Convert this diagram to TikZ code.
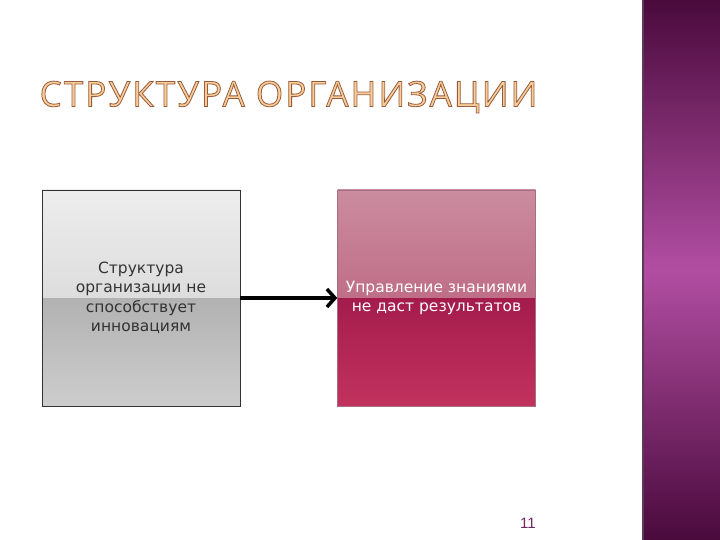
\documentclass[tikz,border=0pt]{standalone}
\usepackage{fontspec}
\setmainfont{DejaVu Sans}
\newfontfamily\titlefont[LetterSpace=6]{Open Sans}
\newfontfamily\numfont{Liberation Sans}
\usetikzlibrary{arrows.meta}

\definecolor{bandDark}{HTML}{4A0A3C}
\definecolor{bandMid}{HTML}{B24EA2}
\definecolor{grayTop}{HTML}{EDEDED}
\definecolor{grayMidA}{HTML}{CDCDCD}
\definecolor{grayMidB}{HTML}{B2B2B2}
\definecolor{grayBot}{HTML}{CDCDCD}
\definecolor{redTop}{HTML}{CB8CA0}
\definecolor{redMidA}{HTML}{B4506F}
\definecolor{redMidB}{HTML}{A41C4C}
\definecolor{redBot}{HTML}{C2325F}
\definecolor{titleFill}{HTML}{F8CD9A}
\definecolor{numColor}{HTML}{6E2A64}

% outline only for the title letters
\newcommand{\outlined}[1]{\special{pdf:literal direct 2 Tr 0.8 w 0.6 0.36 0.23 RG}#1\special{pdf:literal direct 0 Tr}}

\tikzset{
  box/.style={minimum width=198pt, minimum height=216pt, inner sep=0pt,
    align=center, font=\fontsize{15.5}{19.5}\selectfont},
  graybox/.style={box, draw=black!80, line width=0.6pt, text=black!80,
    path picture={
      \shade[top color=grayTop, bottom color=grayMidA]
        (path picture bounding box.north west) rectangle (path picture bounding box.east);
      \shade[top color=grayMidB, bottom color=grayBot]
        (path picture bounding box.west) rectangle (path picture bounding box.south east);
    }},
  redbox/.style={box, draw=redTop!80!black, line width=0.5pt, text=white,
    path picture={
      \shade[top color=redTop, bottom color=redMidA]
        (path picture bounding box.north west) rectangle (path picture bounding box.east);
      \shade[top color=redMidB, bottom color=redBot]
        (path picture bounding box.west) rectangle (path picture bounding box.south east);
    }},
  titletext/.style={font=\titlefont\fontsize{35}{35}\selectfont, inner sep=0pt},
  arr/.style={line width=4.5pt, -{Straight Barb[length=8pt, width=18pt, line width=3.5pt]}},
}

\begin{document}
\begin{tikzpicture}[x=1pt, y=-1pt]
\useasboundingbox (0,0) rectangle (720,540);
\fill[white] (0,0) rectangle (720,540);

% purple band on the right
\shade[top color=bandDark, bottom color=bandDark, middle color=bandMid] (642,0) rectangle (720,540);
\draw[bandDark!60!gray, line width=1.5pt] (643,0) -- (643,540);

% title
\node[titletext, text=titleFill] (title) at (288.5,97) {\outlined{СТРУКТУРА ОРГАНИЗАЦИИ}};

% the two boxes
\node[graybox] (struct) at (141,298) {Структура\\организации не\\способствует\\инновациям};
\node[redbox] (knowl) at (436.5,298) {Управление знаниями\\не даст результатов};

\draw[arr] (struct.east) -- (knowl.west);

\node[font=\numfont\fontsize{15}{15}\selectfont, text=numColor] (page) at (528,523) {11};
\end{tikzpicture}
\end{document}
